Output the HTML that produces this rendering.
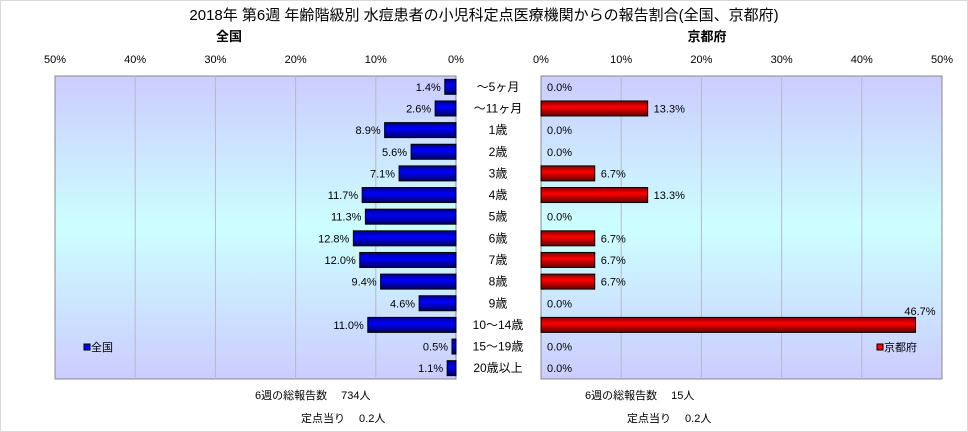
<!DOCTYPE html>
<html><head><meta charset="utf-8"><style>
body{margin:0;background:#fff;}
#wrap{position:relative;width:966px;height:430px;border:1px solid #d8d8d8;overflow:hidden;font-family:"Liberation Sans","Noto Sans CJK JP",sans-serif;}
text{font-family:"Liberation Sans","Noto Sans CJK JP",sans-serif;}
</style></head><body>
<div id="wrap">
<svg id="svg" width="966" height="430">
<defs>
<linearGradient id="bg" x1="0" y1="0" x2="0" y2="1">
<stop offset="0" stop-color="#ccccff"/><stop offset="0.5" stop-color="#ccffff"/><stop offset="1" stop-color="#ccccff"/>
</linearGradient>
<linearGradient id="gb" x1="0" y1="0" x2="0" y2="1">
<stop offset="0" stop-color="#000080"/><stop offset="0.4" stop-color="#0000ff"/><stop offset="1" stop-color="#000060"/>
</linearGradient>
<linearGradient id="gr" x1="0" y1="0" x2="0" y2="1">
<stop offset="0" stop-color="#800000"/><stop offset="0.4" stop-color="#ff0000"/><stop offset="1" stop-color="#600000"/>
</linearGradient>
</defs>
<text x="483" y="19" font-size="15" text-anchor="middle">2018年 第6週 年齢階級別 水痘患者の小児科定点医療機関からの報告割合(全国、京都府)</text>
<text x="228" y="40" font-size="13" text-anchor="middle" font-weight="bold">全国</text>
<text x="706" y="40" font-size="13" text-anchor="middle" font-weight="bold">京都府</text>
<rect x="54" y="75" width="401" height="303" fill="url(#bg)" stroke="#888"/>
<rect x="540" y="75" width="401" height="303" fill="url(#bg)" stroke="#888"/>
<g id="g"></g>
<rect x="83" y="343" width="6" height="6" fill="#0000ff" stroke="#000"/>
<text x="90" y="350" font-size="11">全国</text>
<rect x="876" y="343" width="6" height="6" fill="#ff0000" stroke="#000"/>
<text x="883" y="350" font-size="11">京都府</text>
<text x="254" y="398" font-size="11">6週の総報告数　 734人</text>
<text x="300" y="421" font-size="11">定点当り　 0.2人</text>
<text x="584" y="398" font-size="11">6週の総報告数　 15人</text>
<text x="626" y="421" font-size="11">定点当り　 0.2人</text>
</svg>
</div>
<script>
const categories=["～5ヶ月","～11ヶ月","1歳","2歳","3歳","4歳","5歳","6歳","7歳","8歳","9歳","10～14歳","15～19歳","20歳以上"];
const national=[1.4,2.6,8.9,5.6,7.1,11.7,11.3,12.8,12.0,9.4,4.6,11.0,0.5,1.1];
const kyoto=[0,13.3,0,0,6.7,13.3,0,6.7,6.7,6.7,0,46.7,0,0];
const ticks=[0,10,20,30,40,50];
const NS="http://www.w3.org/2000/svg";
const g=document.getElementById('g');
const top0=75,h=303,maxV=50,W=401;
const lx=v=>455-v/maxV*W, rx=v=>540+v/maxV*W;
const rowH=h/categories.length, yc=i=>top0+rowH*(i+0.5);
function el(t,a,txt){const e=document.createElementNS(NS,t);for(const k in a)e.setAttribute(k,a[k]);if(txt!=null)e.textContent=txt;g.appendChild(e);return e;}
ticks.forEach(t=>{
 if(t>0&&t<50){
  let e=el('line',{x1:lx(t),x2:lx(t),y1:top0,y2:top0+h,stroke:'#b8b8c8'});
  
  
  e=el('line',{x1:rx(t),x2:rx(t),y1:top0,y2:top0+h,stroke:'#b8b8c8'});
  
  
 }
 let e=el('text',{x:lx(t),y:62,'font-size':11,'text-anchor':'middle'},t+'%');
 
 
 e=el('text',{x:rx(t),y:62,'font-size':11,'text-anchor':'middle'},t+'%');
 
 
});
categories.forEach((c,i)=>{
 const y=yc(i);
 let e=el('text',{x:497,y:y+4,'font-size':12,'text-anchor':'middle'},c);
 
 
 const v=national[i];
 e=el('rect',{x:lx(v),y:y-7.5,width:455-lx(v),height:15,fill:'url(#gb)',stroke:'#000'});
 
 
 e=el('text',{x:lx(v)-4,y:y+4,'font-size':11,'text-anchor':'end'},v.toFixed(1)+'%');
 
 
 const k=kyoto[i];
 if(k>0){
  e=el('rect',{x:540,y:y-7.5,width:rx(k)-540,height:15,fill:'url(#gr)',stroke:'#000'});
  
  
 }
 const big=rx(k)>900;
 e=el('text',{x:big?rx(k)+20:rx(k)+6,y:big?y-10:y+4,'font-size':11,'text-anchor':big?'end':'start'},k.toFixed(1)+'%');
 
 
});
</script>
</body></html>
